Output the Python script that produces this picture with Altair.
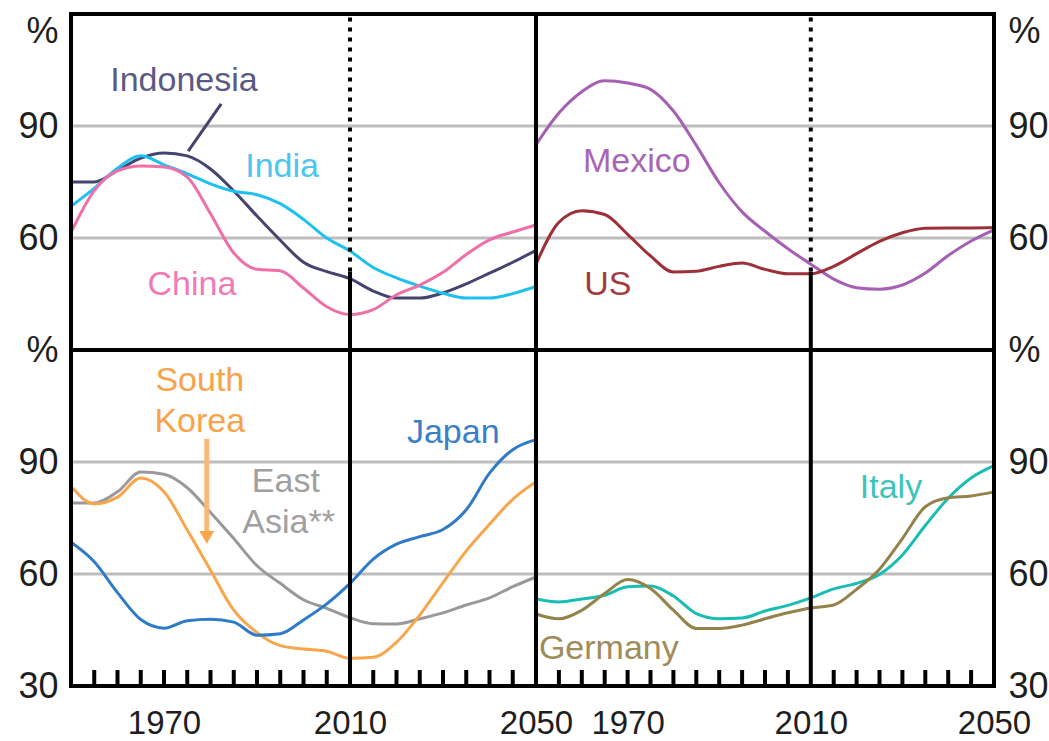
import altair as alt
import pandas as pd

# ---------------- data ----------------
years = [1950, 1955, 1960, 1965, 1970, 1975, 1980, 1985, 1990, 1995, 2000,
         2005, 2010, 2015, 2020, 2025, 2030, 2035, 2040, 2045, 2050]

indonesia = [75, 75, 78.1, 81.4, 82.8, 82, 78.5, 72.6, 65.9, 59.4, 53.5,
             51, 49.1, 45.8, 43.9, 43.9, 45.3, 47.7, 50.6, 53.5, 56.7]
india = [68.5, 73.3, 78.7, 82, 79.6, 77.2, 74.5, 72.5, 71.6, 69.2, 65,
         60, 56.5, 52.1, 49.3, 47.1, 45.2, 43.9, 43.9, 45.1, 47]
china = [61.5, 72.7, 78, 79.3, 79, 76.3, 66.5, 56, 51.6, 51.2, 46.6,
         41.6, 39.5, 40.8, 44.8, 47.4, 50.8, 55.6, 59.5, 61.6, 63.5]
mexico = [85, 93.5, 99.2, 102.1, 101.5, 99.8, 94, 84.8, 74.8, 67, 61.8,
          57.1, 53, 49, 46.7, 46.3, 47.4, 50.6, 55.3, 59.2, 62.2]
us = [53, 64.2, 67.3, 66.3, 61, 55.2, 50.9, 51.1, 52.4, 53.3, 51.6,
      50.4, 50.4, 52.4, 55.8, 59.1, 61.4, 62.6, 62.7, 62.7, 62.8]
east_asia = [79, 79, 82, 87.3, 86.7, 83.1, 76.5, 69.5, 62.2, 57.5, 53.1,
             50.8, 48.3, 46.7, 46.6, 48, 49.6, 51.7, 53.6, 56.6, 59.2]
south_korea = [83.5, 78.8, 80.6, 85.7, 82, 71.8, 61, 50.3, 44.3, 40.8, 39.9,
               39.3, 37.4, 37.7, 41.7, 49, 57.7, 66.2, 73.3, 80, 84.7]
japan = [68.5, 63.3, 55, 47.8, 45.5, 47.5, 47.9, 47.1, 43.6, 44, 47.7,
         52, 57.5, 64, 68, 70, 71.9, 77.2, 87, 93.3, 96]
italy = [53.3, 52.5, 53.3, 54.3, 56.6, 56.8, 54.1, 49.4, 48, 48.2, 50.1,
         51.6, 53.6, 56, 57.5, 59.9, 65.1, 73, 80.3, 85.7, 89]
germany = [49.3, 48, 50.3, 54.8, 58.5, 56.1, 50.3, 45.4, 45.4, 46.3, 48,
           49.6, 50.9, 51.7, 55.9, 61.3, 69.5, 78, 80.4, 80.9, 82]

series_values = {
    "Indonesia": indonesia, "India": india, "China": china,
    "Mexico": mexico, "US": us,
    "East Asia": east_asia, "South Korea": south_korea, "Japan": japan,
    "Italy": italy, "Germany": germany,
}
series_colors = {
    "Indonesia": "#44446f", "India": "#1ec0f0", "China": "#ef6fa8",
    "Mexico": "#a55fb3", "US": "#9d3038",
    "East Asia": "#999999", "South Korea": "#f8a54c", "Japan": "#2f7bc8",
    "Italy": "#19bdb2", "Germany": "#94824a",
}
panel_series = {
    "tl": ["Indonesia", "India", "China"],
    "tr": ["Mexico", "US"],
    "bl": ["East Asia", "South Korea", "Japan"],
    "br": ["Italy", "Germany"],
}

label_text = ["Indonesia", "India", "China", "Mexico", "US", "South", "Korea",
              "East", "Asia**", "Japan", "Italy", "Germany"]
label_panel = ["tl", "tl", "tl", "tr", "tr", "bl", "bl", "bl", "bl", "bl", "br", "br"]
label_year = [1974.3, 1995.4, 1976, 1972, 1965.7, 1977.7, 1977.7, 1996.2, 1996.8,
              2032.2, 2027.5, 1965.9]
label_value = [102, 79, 47.4, 80.4, 47.4, 111.7, 100.7, 84.6, 73.7, 97.8, 83, 39.9]
label_color = ["#5a5a84", "#4cc6f0", "#f27ab4", "#a865b5", "#a23c42", "#f8a24a",
               "#f8a24a", "#a0a0a0", "#a0a0a0", "#3a80c8", "#3fc4b8", "#a08c5a"]

grid_values = [60, 90]
minor_tick_years = [1955, 1960, 1965, 1970, 1975, 1980, 1985, 1990, 1995, 2000, 2005,
                    2015, 2020, 2025, 2030, 2035, 2040, 2045]
x_label_years = [1970, 2010, 2050]
split_year = 2010
dotted_from = 51

indo_leader = {"year": [1975.2], "year2": [1982.3], "value": [83.3], "value2": [95.9]}
korea_arrow = {"year": [1979.2], "value": [96.2], "value2": [71.5]}
korea_head = {"year": [1979.2], "value": [69.8]}

# ---------------- layout ----------------
FONT = "Liberation Sans"
W_L, W_R, H = 465, 458, 336
TEXT_COL = "#1e1e1e"


def make_panel(key, width, top, right):
    xs = alt.Scale(domain=[1950, 2050], nice=False, zero=False)
    ys = alt.Scale(domain=[30, 120], nice=False, zero=False)

    names = panel_series[key]
    rows = []
    for n in names:
        for yr, v in zip(years, series_values[n]):
            rows.append({"series": n, "year": yr, "value": v,
                         "color": series_colors[n]})
    df = pd.DataFrame(rows)

    yvals = [60, 90, 120] if top else [30, 60, 90, 120]
    if top:
        baseline = {"condition": {"test": "datum.value == 120", "value": "top"},
                    "value": "middle"}
    else:
        baseline = "middle"
    yaxis = alt.Axis(values=yvals, orient="right" if right else "left",
                     labelExpr="datum.value == 120 ? '%' : datum.label",
                     labelBaseline=baseline,
                     labelAlign="left" if right else "right",
                     labelPadding=14 if right else 13, labelFlush=False,
                     domain=False, ticks=False, grid=False,
                     labelFont=FONT, labelFontSize=36, labelColor=TEXT_COL)

    def X(field="year"):
        if top:
            return alt.X(f"{field}:Q", scale=xs, axis=None, title=None)
        return alt.X(f"{field}:Q", scale=xs, title=None,
                     axis=alt.Axis(values=x_label_years, format="d", labelFlush=False,
                                   labelPadding=21, labelOverlap=False,
                                   domain=False, ticks=False, grid=False,
                                   labelFont=FONT, labelFontSize=33,
                                   labelColor=TEXT_COL))

    def Y(field="value"):
        return alt.Y(f"{field}:Q", scale=ys, axis=yaxis, title=None)

    grid = alt.Chart(pd.DataFrame({"value": grid_values})).mark_rule(
        color="#bdbdbd", strokeWidth=3
    ).encode(y=Y(), x=alt.value(0), x2=alt.value(width))

    lines = alt.Chart(df).mark_line(strokeWidth=3, interpolate="monotone").encode(
        x=X(), y=Y(),
        color=alt.Color("color:N", scale=None),
        detail="series:N",
    )

    layers = [grid, lines]

    if top:
        dotted = alt.Chart(pd.DataFrame({"year": [split_year], "value": [dotted_from],
                                         "value2": [120]})).mark_rule(
            color="black", strokeWidth=4, strokeDash=[4, 6], strokeCap="butt"
        ).encode(x=X(), y=Y(), y2="value2:Q")
        solid = alt.Chart(pd.DataFrame({"year": [split_year], "value": [30],
                                        "value2": [dotted_from]})).mark_rule(
            color="black", strokeWidth=4
        ).encode(x=X(), y=Y(), y2="value2:Q")
        layers += [dotted, solid]
    else:
        solid = alt.Chart(pd.DataFrame({"year": [split_year], "value": [30],
                                        "value2": [120]})).mark_rule(
            color="black", strokeWidth=4
        ).encode(x=X(), y=Y(), y2="value2:Q")
        ticks = alt.Chart(pd.DataFrame({"year": minor_tick_years})).mark_rule(
            color="black", strokeWidth=4
        ).encode(x=X(), y=alt.value(H - 16), y2=alt.value(H))
        layers += [solid, ticks]

    ldf = pd.DataFrame({"text": label_text, "panel": label_panel, "year": label_year,
                        "value": label_value, "color": label_color})
    ldf = ldf[ldf["panel"] == key]
    texts = alt.Chart(ldf).mark_text(font=FONT, fontSize=34, align="center",
                                     baseline="middle").encode(
        x=X(), y=Y(), text="text:N", color=alt.Color("color:N", scale=None),
    )
    layers.append(texts)

    if key == "tl":
        leader = alt.Chart(pd.DataFrame(indo_leader)).mark_rule(
            color="#44446f", strokeWidth=3
        ).encode(x=X(), x2="year2:Q", y=Y(), y2="value2:Q")
        layers.append(leader)
    if key == "bl":
        shaft = alt.Chart(pd.DataFrame(korea_arrow)).mark_rule(
            color="#f9b878", strokeWidth=5
        ).encode(x=X(), y=Y(), y2="value2:Q")
        head = alt.Chart(pd.DataFrame(korea_head)).mark_point(
            shape="triangle-down", filled=True, size=220, color="#f8a54c", opacity=1
        ).encode(x=X(), y=Y())
        layers += [shaft, head]

    frame = alt.Chart(pd.DataFrame({"a": [0]})).mark_rect(
        fillOpacity=0, stroke="black", strokeWidth=4
    ).encode(x=alt.value(0), x2=alt.value(width), y=alt.value(0), y2=alt.value(H))
    layers.append(frame)

    return alt.layer(*layers).properties(width=width, height=H)


tl = make_panel("tl", W_L, top=True, right=False)
tr = make_panel("tr", W_R, top=True, right=True)
bl = make_panel("bl", W_L, top=False, right=False)
br = make_panel("br", W_R, top=False, right=True)

chart = alt.concat(tl, tr, bl, br, columns=2, spacing=0, bounds="flush").properties(
    padding={"left": 17, "top": 11, "right": 0, "bottom": 0},
    background="white",
).configure_view(stroke="transparent")

chart.save("out.html", embed_options={"renderer": "svg", "actions": False})
